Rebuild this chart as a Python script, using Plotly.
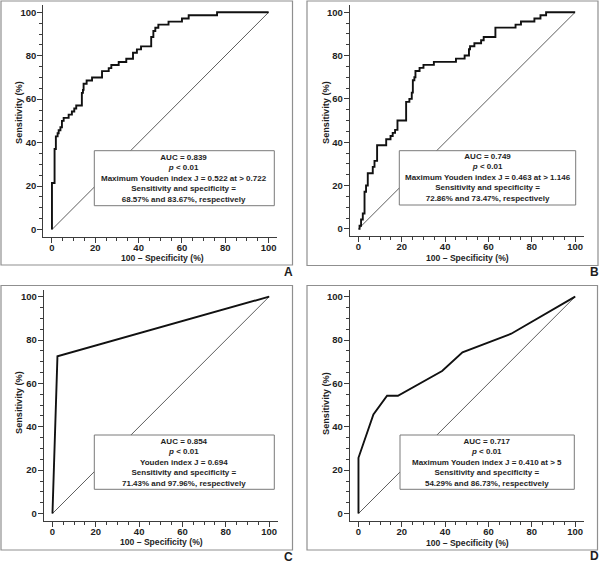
import plotly.graph_objects as go

# ---------------- data ----------------
a_fpr = [0, 0, 1.2, 1.8, 2.6, 3.1, 3.9, 4.6, 5.4, 7.7, 9.2, 10.3, 11.2, 13.8, 14.3, 14.6, 16.0, 18.5,
         23.1, 26.2, 27.4, 30.8, 34.3, 37.4, 39.2, 41.1, 45.8, 46.8, 47.7, 49.1, 53.8, 60.0, 63.1, 76.2, 100]
a_tpr = [0, 21.4, 37.1, 42.9, 44.3, 45.7, 47.1, 50.0, 51.4, 52.9, 54.3, 55.7, 57.1, 62.9, 64.3, 67.1, 68.6, 70.0,
         72.9, 74.3, 75.7, 77.1, 78.6, 81.4, 82.9, 84.3, 88.6, 91.4, 92.9, 94.3, 95.7, 97.1, 98.6, 100, 100]

b_fpr = [0, 0.5, 1.2, 2.0, 2.8, 3.5, 4.3, 6.6, 7.4, 8.6, 12.8, 14.8, 15.8, 16.9, 18.0, 22.0, 23.5, 24.6, 25.1,
         25.8, 26.3, 28.2, 30.0, 34.8, 45.0, 49.0, 51.0, 51.5, 53.5, 56.6, 57.8, 63.2, 72.5, 75.0, 81.2, 84.0, 86.6, 100]
b_tpr = [0, 1.4, 4.3, 7.1, 17.1, 20.0, 25.7, 28.6, 31.4, 38.6, 41.4, 42.9, 44.3, 45.7, 50.0, 58.6, 60.0, 62.9, 68.6,
         70.0, 72.9, 74.3, 75.7, 77.1, 78.6, 80.0, 82.9, 84.3, 85.7, 87.1, 88.6, 92.9, 94.3, 95.7, 97.1, 98.6, 100, 100]

c_fpr = [0, 2.3, 100]
c_tpr = [0, 72.5, 100]

d_fpr = [0, 0, 6.9, 13.2, 18.2, 38.6, 48.0, 70.5, 100]
d_tpr = [0, 25.7, 45.7, 54.3, 54.3, 65.7, 74.3, 82.9, 100]

panel_letters = ["A", "B", "C", "D"]
stats_text = [
    "AUC = 0.839<br><i>p</i> < 0.01<br>Maximum Youden index J = 0.522 at > 0.722<br>Sensitivity and specificity =<br>68.57% and 83.67%, respectively",
    "AUC = 0.749<br><i>p</i> < 0.01<br>Maximum Youden index J = 0.463 at > 1.146<br>Sensitivity and specificity =<br>72.86% and 73.47%, respectively",
    "AUC = 0.854<br><i>p</i> < 0.01<br>Youden index J = 0.694<br>Sensitivity and specificity =<br>71.43% and 97.96%, respectively",
    "AUC = 0.717<br><i>p</i> < 0.01<br>Maximum Youden index J = 0.410 at > 5<br>Sensitivity and specificity =<br>54.29% and 86.73%, respectively",
]
x_title = "100 \u2013 Specificity (%)"
y_title = "Sensitivity (%)"
tick_vals = [0, 20, 40, 60, 80, 100]

# ---------------- layout helpers ----------------
W, H = 600, 563
FONT = "Liberation Sans, Arial, Helvetica, sans-serif"
TXT = "#1e1e1e"
AX = "#3c3c3c"

def px_x(p):
    return p / W

def px_y(p):
    return 1 - p / H

# pixel geometry of each panel: (x_left, x_right, y_top, y_bottom) of plotting area
panels = [
    (43.3, 277.3, 5.1, 236.7),
    (349.8, 583.8, 5.1, 236.0),
    (43.8, 277.8, 289.5, 520.7),
    (349.8, 583.8, 289.5, 520.7),
]
frames = [
    (1, 292.5, 1, 265),
    (307, 598, 1, 265.5),
    (1, 292.5, 285.5, 550),
    (307, 597.5, 285.5, 550),
]
boxes = [
    (94.3, 274.3, 150.7, 205.7),
    (399.3, 575.7, 150.7, 205.0),
    (94.3, 274.3, 435.0, 489.3),
    (400.0, 574.3, 435.0, 489.3),
]
letter_pos = [(288, 272), (594, 272), (288, 557), (594, 556)]
ytitle_pos = [(19, 113), (326, 113), (19, 403), (326, 404)]
xtitle_pos = [(162, 258.5), (467, 258.5), (161, 542), (467, 542.5)]

fig = go.Figure()

data = [(a_fpr, a_tpr, "hv"), (b_fpr, b_tpr, "hv"), (c_fpr, c_tpr, "linear"), (d_fpr, d_tpr, "linear")]

shapes = []
annotations = []
for i, (fx, fy, shape) in enumerate(data):
    xa = "x" if i == 0 else f"x{i+1}"
    ya = "y" if i == 0 else f"y{i+1}"
    # diagonal reference line
    fig.add_trace(go.Scatter(x=[0, 100], y=[0, 100], mode="lines",
                             line=dict(color="#333333", width=0.8),
                             xaxis=xa, yaxis=ya, showlegend=False, hoverinfo="skip"))
    fig.add_trace(go.Scatter(x=fx, y=fy, mode="lines",
                             line=dict(color="#111111", width=1.9, shape=shape),
                             xaxis=xa, yaxis=ya, showlegend=False))
    xl, xr, yt, yb = panels[i]
    axis_common = dict(showline=True, linecolor=AX, linewidth=1, ticks="outside", ticklen=5,
                       tickwidth=1, tickcolor=AX, showgrid=False, zeroline=False,
                       tickvals=tick_vals, ticktext=[str(v) for v in tick_vals],
                       minor=dict(ticks="outside", ticklen=3, tickwidth=1, tickcolor=AX, dtick=5, tick0=0,
                                  showgrid=False),
                       tickfont=dict(family=FONT, size=9.5, color=TXT, weight="bold"),
                       fixedrange=True)
    xkey = "xaxis" if i == 0 else f"xaxis{i+1}"
    ykey = "yaxis" if i == 0 else f"yaxis{i+1}"
    fig.update_layout(**{
        xkey: dict(domain=[px_x(xl), px_x(xr)], range=[-4, 104], anchor=ya,
                   ticklabelstandoff=-3, **axis_common),
        ykey: dict(domain=[px_y(yb), px_y(yt)], range=[-3.3, 103.3], anchor=xa,
                   ticklabelstandoff=-1, **axis_common),
    })
    # panel frame
    fx0, fx1, fy0, fy1 = frames[i]
    shapes.append(dict(type="rect", xref="paper", yref="paper", x0=px_x(fx0), x1=px_x(fx1),
                       y0=px_y(fy1), y1=px_y(fy0), line=dict(color="#8f8f8f", width=1.2),
                       fillcolor="rgba(0,0,0,0)", layer="below"))
    # stats box
    bx0, bx1, by0, by1 = boxes[i]
    shapes.append(dict(type="rect", xref="paper", yref="paper", x0=px_x(bx0), x1=px_x(bx1),
                       y0=px_y(by1), y1=px_y(by0), line=dict(color="#7a7a7a", width=1),
                       fillcolor="white", layer="above"))
    annotations.append(dict(xref="paper", yref="paper", x=px_x((bx0 + bx1) / 2), y=px_y((by0 + by1) / 2),
                            text=stats_text[i], showarrow=False, align="center",
                            xanchor="center", yanchor="middle",
                            font=dict(family=FONT, size=8, color=TXT, weight="bold")))
    # panel letter
    lx, ly = letter_pos[i]
    annotations.append(dict(xref="paper", yref="paper", x=px_x(lx), y=px_y(ly), text=panel_letters[i],
                            showarrow=False, xanchor="center", yanchor="middle",
                            font=dict(family=FONT, size=12, color=TXT, weight="bold")))
    # axis titles
    tx, ty = ytitle_pos[i]
    annotations.append(dict(xref="paper", yref="paper", x=px_x(tx), y=px_y(ty), text=y_title,
                            showarrow=False, textangle=-90, xanchor="center", yanchor="middle",
                            font=dict(family=FONT, size=9.2, color=TXT, weight="bold")))
    tx, ty = xtitle_pos[i]
    annotations.append(dict(xref="paper", yref="paper", x=px_x(tx), y=px_y(ty), text=x_title,
                            showarrow=False, xanchor="center", yanchor="middle",
                            font=dict(family=FONT, size=8.6, color=TXT, weight="bold")))

fig.update_layout(width=W, height=H, margin=dict(l=0, r=0, t=0, b=0, pad=0),
                  paper_bgcolor="white", plot_bgcolor="white",
                  shapes=shapes, annotations=annotations, showlegend=False,
                  font=dict(family=FONT, color=TXT))

fig.write_html("out.html", config={"displayModeBar": False, "staticPlot": True},
               post_script="document.body.style.margin='0';document.body.style.padding='0';")
